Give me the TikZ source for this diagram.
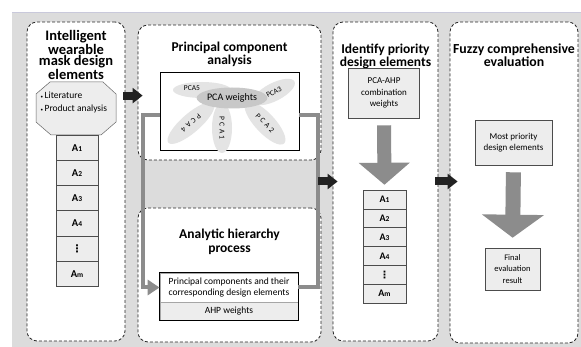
\documentclass[tikz,border=0pt]{standalone}
\usepackage{fontspec}
\setmainfont{Carlito}
\newfontfamily\symfont{DejaVu Sans}
\usetikzlibrary{positioning,calc,shapes.geometric,arrows.meta}

\definecolor{bggray}{HTML}{DCDCDC}
\definecolor{linegray}{HTML}{8C8C8C}
\definecolor{cellgray}{HTML}{EDEDED}
\definecolor{petalgray}{HTML}{E4E4E4}
\definecolor{coregray}{HTML}{C8C8C8}
\definecolor{arrowblack}{HTML}{222222}

\newcommand{\idx}[1]{{\fontsize{7.5}{7.5}\selectfont#1}}
\newcommand{\dotcol}{{\symfont\bfseries ⋮}}
\newcommand{\pcaname}[1]{P\kern2.5pt C\kern2.5pt A\kern2.5pt #1}

\tikzset{
  panel/.style={draw=black!85,dash pattern=on 3pt off 2pt,line width=0.8pt,rounded corners=10pt,fill=white},
  title/.style={draw=none,fill=none,align=center,font=\bfseries\fontsize{13.5}{13}\selectfont},
  infobox/.style={draw=black!70,fill=cellgray,line width=0.6pt,align=center,font=\fontsize{9}{11.5}\selectfont},
  cell/.style={draw=black!70,fill=cellgray,line width=0.5pt,inner sep=0pt,font=\bfseries\fontsize{10.5}{10.5}\selectfont},
  petal/.style={ellipse,fill=petalgray,inner sep=0pt,font=\fontsize{7.5}{7.5}\selectfont},
  stepflow/.style={arrowblack,line width=8pt,-{Triangle[width=15pt,length=10pt]}},
  bigdown/.style={linegray,-{Triangle[width=50pt,length=22pt]}},
  feedback/.style={linegray,line width=4pt},
}

\begin{document}
\begin{tikzpicture}[x=1pt,y=-1pt]
    \useasboundingbox (0,0) rectangle (581,347);

    % Background
    \fill[bggray] (12,12) rectangle (581,347);
    \draw[blue!20!gray!35,line width=0.6pt] (12,12) -- (581,12);

    % Intelligent wearable mask design elements
    \node[panel,minimum width=98pt,minimum height=319pt] (elements) at (76,181.5) {};
    \node[title,font=\bfseries\fontsize{14.5}{11.8}\selectfont] (elementstitle) at (76,55) {Intelligent\\wearable\\mask design\\elements};
    \draw[draw=black!60,fill=cellgray,line width=0.5pt] (50,82) -- (103,82) -- (116,94) -- (116,122) -- (101,135) -- (51,135) -- (36,122) -- (36,94) -- cycle;
    \node[draw=none,fill=none,align=left,anchor=west,font=\fontsize{9.5}{13}\selectfont] (sources) at (37,102.5) {{\fontsize{5}{5}\selectfont•}\,Literature\\{\fontsize{5}{5}\selectfont•}\,Product analysis};
    \foreach \lab [count=\i] in {A\idx{1},A\idx{2},A\idx{3},A\idx{4},\dotcol,A\idx{m}}
        \node[cell,minimum width=42pt,minimum height=25.2pt] (elem\i) at (77,{147.6+(\i-1)*25.2}) {\lab};

    % Principal component analysis
    \node[panel,minimum width=183pt,minimum height=135pt] (pca) at (229.5,92.5) {};
    \node[title] (pcatitle) at (229.5,54.5) {Principal component\\analysis};
    \node[draw=black,line width=0.8pt,fill=white,minimum width=139pt,minimum height=78pt] (pcabox) at (229.5,111) {};

    % Petals round the PCA weights
    \node[petal,minimum width=58pt,minimum height=16pt] (pcafive) at (202,90) {};
    \node[draw=none,fill=none,font=\fontsize{7.5}{7.5}\selectfont] (pcafivetext) at (192,88.5) {PCA5};
    \node[petal,rotate=27,minimum width=46pt,minimum height=18pt] (pcathree) at (274,92) {PCA3};
    \node[petal,rotate=-139,minimum width=60pt,minimum height=19pt] (pcafour) at (191,123) {\pcaname{4}};
    \node[petal,rotate=-90,minimum width=50pt,minimum height=20pt] (pcaone) at (222,128) {\pcaname{1}};
    \node[petal,rotate=-47,minimum width=56pt,minimum height=20pt] (pcatwo) at (265,123) {\pcaname{2}};
    \node[ellipse,fill=coregray,inner sep=0pt,minimum width=58pt,minimum height=21pt,font=\fontsize{10}{10}\selectfont] (pcaweights) at (232,98) {PCA weights};

    % Analytic hierarchy process
    \node[panel,minimum width=183pt,minimum height=134pt] (ahp) at (229.5,275) {};
    \node[title,font=\bfseries\fontsize{13.5}{14}\selectfont] (ahptitle) at (229.5,242) {Analytic hierarchy\\process};
    \node[draw=gray!70,fill=white,line width=0.8pt,minimum width=138pt,minimum height=29pt,align=center,font=\fontsize{9.5}{11}\selectfont] (components) at (229,287.5) {Principal components and their\\corresponding design elements};
    \node[draw=gray!70,fill=cellgray,line width=0.8pt,minimum width=138pt,minimum height=18pt,font=\fontsize{9.5}{9.5}\selectfont] (ahpweights) at (229,311) {AHP weights};
    \draw[black,line width=0.8pt] (components.north west) rectangle (ahpweights.south east);

    % Weights passed from PCA to AHP
    \draw[feedback,-{Triangle[width=15pt,length=12pt]}] ([yshift=-4pt]pcabox.west) -- ++(-17,0) |- (components.west);
    \draw[feedback] ([yshift=-4pt]pcabox.east) -- ++(19,0) |- (components.east);

    % Identify priority design elements
    \node[panel,minimum width=105pt,minimum height=319pt] (priority) at (385.5,181.5) {};
    \node[title] (prioritytitle) at (385.5,56) {Identify priority\\design elements};
    \node[infobox,minimum width=71pt,minimum height=50pt] (combined) at (384,93) {PCA-AHP\\combination\\weights};
    \foreach \lab [count=\i] in {A\idx{1},A\idx{2},A\idx{3},A\idx{4},\dotcol,A\idx{m}}
        \node[cell,minimum width=43pt,minimum height=18.8pt,font=\bfseries\fontsize{10}{10}\selectfont] (prio\i) at (384.5,{199.4+(\i-1)*18.8}) {\lab};
    \draw[bigdown,line width=14pt,shorten <=7pt,shorten >=5pt] (combined.south) -- (prio1.north);

    % Fuzzy comprehensive evaluation
    \node[panel,minimum width=128pt,minimum height=321pt] (fuzzy) at (514,182.5) {};
    \node[title,font=\bfseries\fontsize{13.8}{13}\selectfont] (fuzzytitle) at (514,55.5) {Fuzzy comprehensive\\evaluation};
    \node[infobox,minimum width=77pt,minimum height=45pt] (mostpriority) at (513.5,142.5) {Most priority\\design elements};
    \node[infobox,minimum width=55pt,minimum height=42pt,font=\fontsize{8.5}{11.3}\selectfont] (result) at (512.5,269) {Final\\evaluation\\result};
    \draw[bigdown,line width=15pt,-{Triangle[width=61pt,length=23pt]},shorten <=7pt,shorten >=10pt] (mostpriority.south) -- (result.north);

    % Steps
    \draw[stepflow] ($(elements.north east)+(-2,74)$) -- ($(pca.north west)+(5,71)$);
    \draw[stepflow] ($(pca.east |- priority.west)+(-3,0)$) -- ($(priority.west)+(5,0)$);
    \draw[stepflow] ($(priority.east)+(-3,0)$) -- ($(fuzzy.west |- priority.east)+(8,0)$);
\end{tikzpicture}
\end{document}
